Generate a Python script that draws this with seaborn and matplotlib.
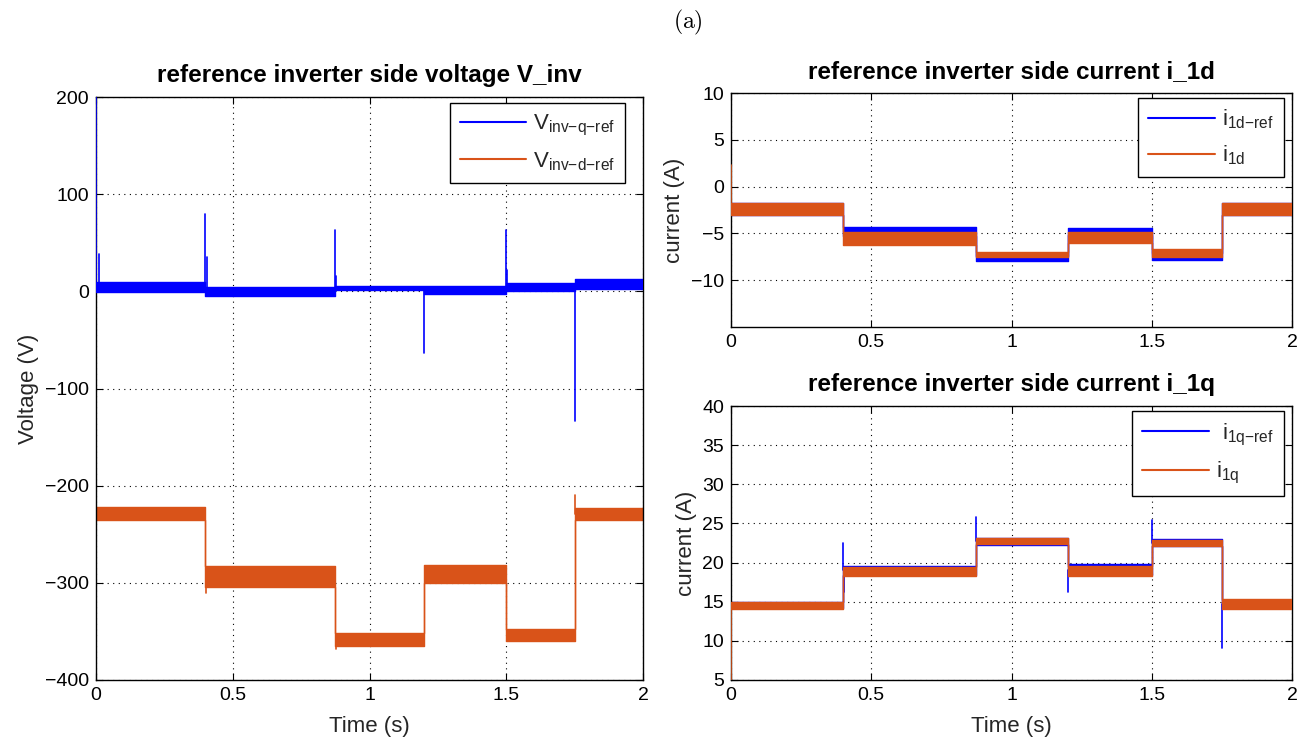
import numpy as np
import pandas as pd
import matplotlib
matplotlib.use("Agg")
import matplotlib.pyplot as plt
from matplotlib.lines import Line2D
import seaborn as sns

# ---------------- data ----------------
seg_t = [0.0, 0.4, 0.875, 1.2, 1.5, 1.75, 2.0]   # step instants (s)

# left panel: reference inverter side voltage (ripple band low / high per segment)
vq_lo = [-1, -5, 1, -3, 0, 2]
vq_hi = [10, 4, 6, 5, 9, 13]
vd_lo = [-235, -304, -365, -300, -360, -235]
vd_hi = [-222, -283, -352, -282, -347, -223]
vq_spike_t = [0.0, 0.012, 0.4, 0.406, 0.875, 0.879, 1.2, 1.5, 1.504, 1.75]
vq_spike_v = [200, 38, 80, 35, 63, 16, -63, 63, 22, -133]
vd_spike_t = [0.0, 0.403, 0.877, 1.753]
vd_spike_v = [55, -310, -368, -210]

# top right: i_1d
id_ref_lo = [-3.0, -5.3, -7.9, -5.2, -7.8, -3.0]
id_ref_hi = [-1.8, -4.3, -7.4, -4.4, -7.1, -1.8]
id_lo = [-3.0, -6.2, -7.5, -6.0, -7.5, -3.0]
id_hi = [-1.8, -4.8, -7.0, -4.8, -6.7, -1.7]
id_ref_spike_t = [0.0]
id_ref_spike_v = [10.0]
id_spike_t = [0.0]
id_spike_v = [2.3]

# bottom right: i_1q
iq_ref_lo = [14.2, 18.4, 22.3, 18.4, 22.1, 14.2]
iq_ref_hi = [15.0, 19.6, 23.1, 19.8, 23.0, 15.2]
iq_lo = [14.1, 18.3, 22.4, 18.3, 22.1, 14.1]
iq_hi = [15.0, 19.4, 23.2, 19.6, 22.9, 15.3]
iq_ref_spike_t = [0.0, 0.4, 0.403, 0.875, 1.2, 1.5, 1.75]
iq_ref_spike_v = [26.5, 22.5, 16.2, 25.8, 16.3, 25.5, 9.1]
iq_spike_t = [0.0]
iq_spike_v = [5.0]

x_ticks = [0, 0.5, 1, 1.5, 2]
x_ticklabels = ["0", "0.5", "1", "1.5", "2"]

BLUE = "#0000FF"
ORANGE = "#D95319"

# ---------------- style ----------------
sns.set_theme(style="ticks")
plt.rcParams["font.family"] = ["Liberation Sans", "DejaVu Sans"]
plt.rcParams["mathtext.default"] = "regular"
plt.rcParams["axes.unicode_minus"] = True

fig = plt.figure(figsize=(13.03, 7.45), dpi=100)
W, H = 1303, 745


def add_ax(x0, x1, y0, y1):
    return fig.add_axes([x0 / W, 1 - y1 / H, (x1 - x0) / W, (y1 - y0) / H])


def base_level(lo, hi, t):
    i = 0
    for k, s in enumerate(seg_t[:-1]):
        if t >= s:
            i = k
    return 0.5 * (lo[i] + hi[i])


def draw_series(ax, lo, hi, spk_t, spk_v, color, z):
    lo_e = list(lo) + [lo[-1]]
    hi_e = list(hi) + [hi[-1]]
    ax.fill_between(seg_t, lo_e, hi_e, step="post", color=color, lw=0, zorder=z)
    n = len(seg_t)
    env = pd.DataFrame({"t": seg_t * 2, "v": lo_e + hi_e,
                        "edge": ["lo"] * n + ["hi"] * n})
    sns.lineplot(data=env, x="t", y="v", units="edge", estimator=None,
                 sort=False, drawstyle="steps-post", color=color, lw=1.0,
                 ax=ax, zorder=z, legend=False)
    rows = []
    for k, (t, v) in enumerate(zip(spk_t, spk_v)):
        b = base_level(lo, hi, t)
        rows.append((k, t, b))
        rows.append((k, t, v))
    spk = pd.DataFrame(rows, columns=["id", "t", "v"])
    sns.lineplot(data=spk, x="t", y="v", units="id", estimator=None,
                 sort=False, color=color, lw=1.2, ax=ax, zorder=z + 0.5,
                 legend=False)


def style_ax(ax, ylim, yticks, title, ylabel, xlabel):
    ax.set_xlim(0, 2)
    ax.set_ylim(*ylim)
    ax.set_xticks(x_ticks)
    ax.set_xticklabels(x_ticklabels)
    ax.set_yticks(yticks)
    ax.set_yticklabels([("\u2212" + str(abs(v))) if v < 0 else str(v) for v in yticks])
    ax.tick_params(direction="in", length=5, width=0.8, top=True, right=True,
                   labelsize=14, colors="black", pad=5)
    ax.grid(True, color="black", linestyle=(0, (1, 4)), linewidth=0.8)
    for s in ax.spines.values():
        s.set_linewidth(1.0)
        s.set_color("black")
        s.set_visible(True)
    ax.set_title(title, fontsize=17.5, fontweight="bold", pad=11, color="black")
    ax.set_ylabel(ylabel, fontsize=16, color="#262626", labelpad=4)
    ax.set_xlabel(xlabel, fontsize=16, color="#262626", labelpad=9)
    ax.set_facecolor("white")


def add_legend(ax, labels, bbox):
    handles = [Line2D([], [], color=BLUE, lw=1.5), Line2D([], [], color=ORANGE, lw=1.5)]
    leg = ax.legend(handles, labels, loc="upper right", bbox_to_anchor=bbox,
                    fontsize=16, frameon=True, fancybox=False, edgecolor="black",
                    framealpha=1, handlelength=3.0, handletextpad=0.3,
                    labelspacing=0.55, borderpad=0.45, borderaxespad=0.0)
    leg.get_frame().set_linewidth(1.0)
    leg.set_zorder(10)


# ---------------- left: V_inv ----------------
ax1 = add_ax(96, 643, 97, 680)
draw_series(ax1, vq_lo, vq_hi, vq_spike_t, vq_spike_v, BLUE, 3)
draw_series(ax1, vd_lo, vd_hi, vd_spike_t, vd_spike_v, ORANGE, 2)
style_ax(ax1, (-400, 200), [-400, -300, -200, -100, 0, 100, 200],
         "reference inverter side voltage V_inv", "Voltage (V)", "Time (s)")
add_legend(ax1, [r"V$_{\mathregular{inv{-}q{-}ref}}$", r"V$_{\mathregular{inv{-}d{-}ref}}$"],
           (0.967, 0.99))

# ---------------- top right: i_1d ----------------
ax2 = add_ax(731, 1292, 93, 327)
draw_series(ax2, id_ref_lo, id_ref_hi, id_ref_spike_t, id_ref_spike_v, BLUE, 2)
draw_series(ax2, id_lo, id_hi, id_spike_t, id_spike_v, ORANGE, 3)
style_ax(ax2, (-15, 10), [-10, -5, 0, 5, 10],
         "reference inverter side current i_1d", "current (A)", "")
add_legend(ax2, [r"i$_{\mathregular{1d{-}ref}}$", r"i$_{\mathregular{1d}}$"],
           (0.985, 0.98))

# ---------------- bottom right: i_1q ----------------
ax3 = add_ax(731, 1292, 406, 680)
draw_series(ax3, iq_ref_lo, iq_ref_hi, iq_ref_spike_t, iq_ref_spike_v, BLUE, 2)
draw_series(ax3, iq_lo, iq_hi, iq_spike_t, iq_spike_v, ORANGE, 3)
style_ax(ax3, (5, 40), [5, 10, 15, 20, 25, 30, 35, 40],
         "reference inverter side current i_1q", "current (A)", "Time (s)")
add_legend(ax3, [r" i$_{\mathregular{1q{-}ref}}$", r"i$_{\mathregular{1q}}$"],
           (0.985, 0.98))

fig.text(688 / W, 1 - 22 / H, r"$\mathrm{(a)}$", math_fontfamily="cm",
         fontsize=17, ha="center", va="center", color="black")

fig.savefig("out.png", dpi=100, facecolor="white")
